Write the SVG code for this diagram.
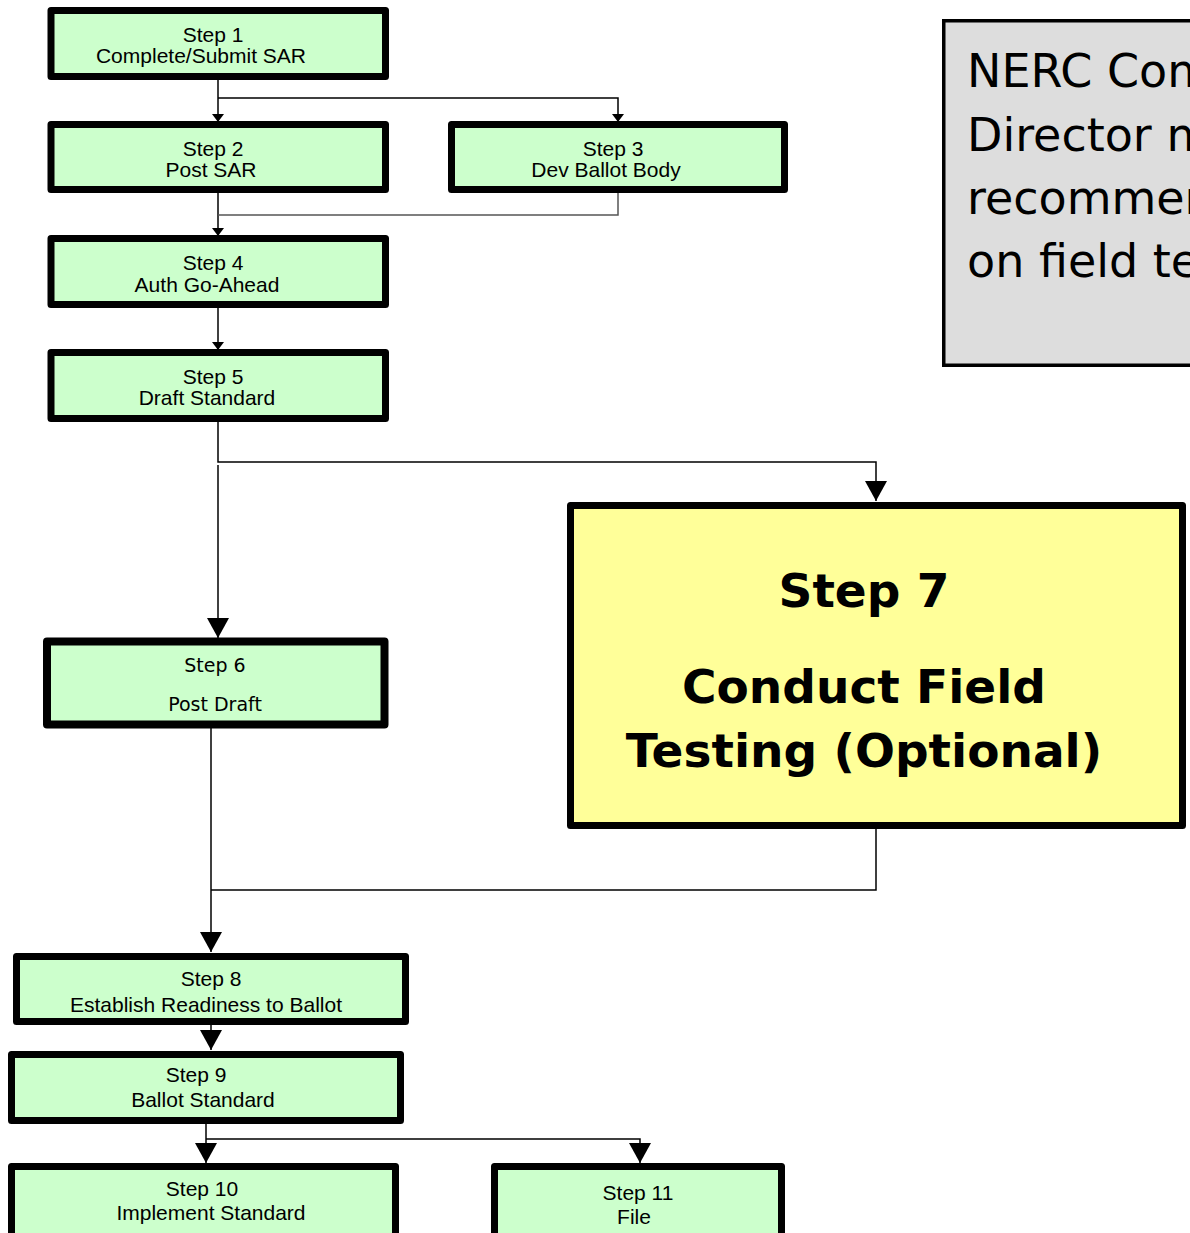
<svg xmlns="http://www.w3.org/2000/svg" width="1190" height="1233" viewBox="0 0 1190 1233">
  <style>
    .step { fill: #CCFFCC; stroke: #000; stroke-width: 7; stroke-linejoin: round; }
    .field { fill: #FFFF99; stroke: #000; stroke-width: 7; stroke-linejoin: round; }
    .note { fill: #DDDDDD; stroke: #000; stroke-width: 3.5; }
    .lbl { font-family: "Liberation Sans", Arial, sans-serif; font-size: 21px; fill: #000; text-anchor: middle; }
    .lbl2 { font-family: "DejaVu Sans", Verdana, sans-serif; font-size: 19px; fill: #000; text-anchor: middle; }
    .big { font-family: "DejaVu Sans", Verdana, sans-serif; font-weight: bold; font-size: 47px; fill: #000; text-anchor: middle; }
    .notetxt { font-family: "DejaVu Sans", Verdana, sans-serif; font-size: 46px; fill: #000; }
    .wire { fill: none; stroke: #000; stroke-width: 1.5; }
    .wire-grey { fill: none; stroke: #555; stroke-width: 1.5; }
  </style>
  <defs>
    <marker id="arrowSmall" viewBox="0 0 8 12" refX="8" refY="6" markerWidth="8" markerHeight="12" markerUnits="userSpaceOnUse" orient="auto">
      <path d="M0,0 L8,6 L0,12 z" fill="#000"/>
    </marker>
    <marker id="arrowLarge" viewBox="0 0 20 22" refX="20" refY="11" markerWidth="20" markerHeight="22" markerUnits="userSpaceOnUse" orient="auto">
      <path d="M0,0 L20,11 L0,22 z" fill="#000"/>
    </marker>
  </defs>

  <rect width="1190" height="1233" fill="#fff"/>

  <!-- connectors -->
  <g id="connectors">
    <path class="wire" d="M218,79 V122" marker-end="url(#arrowSmall)"/>
    <path class="wire" d="M218,98 H618 V122" marker-end="url(#arrowSmall)"/>
    <path class="wire" d="M218,193 V236" marker-end="url(#arrowSmall)"/>
    <path class="wire-grey" d="M618,193 V215 H218"/>
    <path class="wire" d="M218,308 V350" marker-end="url(#arrowSmall)"/>
    <path class="wire" d="M218,422 V462 H876 V501" marker-end="url(#arrowLarge)"/>
    <path class="wire" d="M218,465 V638" marker-end="url(#arrowLarge)"/>
    <path class="wire" d="M211,728 V952" marker-end="url(#arrowLarge)"/>
    <path class="wire" d="M876,829 V890 H211"/>
    <path class="wire" d="M211,1025 V1050" marker-end="url(#arrowLarge)"/>
    <path class="wire" d="M206,1124 V1163" marker-end="url(#arrowLarge)"/>
    <path class="wire" d="M206,1139 H640 V1163" marker-end="url(#arrowLarge)"/>
  </g>

  <g id="step1">
    <rect class="step" x="51" y="10.5" width="334.5" height="66"/>
    <text class="lbl" x="213" y="42">Step 1</text>
    <text class="lbl" x="201" y="63">Complete/Submit SAR</text>
  </g>

  <g id="step2">
    <rect class="step" x="51" y="124.5" width="334.5" height="65"/>
    <text class="lbl" x="213" y="156">Step 2</text>
    <text class="lbl" x="211" y="177">Post SAR</text>
  </g>

  <g id="step3">
    <rect class="step" x="451.5" y="124.5" width="333" height="65"/>
    <text class="lbl" x="613" y="156">Step 3</text>
    <text class="lbl" x="606" y="177">Dev Ballot Body</text>
  </g>

  <g id="step4">
    <rect class="step" x="51" y="238.5" width="334.5" height="66"/>
    <text class="lbl" x="213" y="270">Step 4</text>
    <text class="lbl" x="207" y="292">Auth Go-Ahead</text>
  </g>

  <g id="step5">
    <rect class="step" x="51" y="352.5" width="334.5" height="66"/>
    <text class="lbl" x="213" y="384">Step 5</text>
    <text class="lbl" x="207" y="405">Draft Standard</text>
  </g>

  <g id="step6">
    <rect class="step" x="47" y="641.5" width="337.5" height="83" style="stroke-width:8"/>
    <text class="lbl2" x="215" y="672">Step 6</text>
    <text class="lbl2" x="215" y="711">Post Draft</text>
  </g>

  <g id="step7">
    <rect class="field" x="570.5" y="505.5" width="612" height="320"/>
    <text class="big" x="864" y="607">Step 7</text>
    <text class="big" x="864" y="703">Conduct Field</text>
    <text class="big" x="864" y="767">Testing (Optional)</text>
  </g>

  <g id="note">
    <rect class="note" x="943.75" y="20.75" width="260" height="344.5"/>
    <text class="notetxt" x="967" y="87">NERC Compliance</text>
    <text class="notetxt" x="967" y="151">Director may</text>
    <text class="notetxt" x="967" y="214">recommendation</text>
    <text class="notetxt" x="967" y="277">on field testing</text>
  </g>

  <g id="step8">
    <rect class="step" x="16.5" y="956.5" width="389" height="65"/>
    <text class="lbl" x="211" y="986">Step 8</text>
    <text class="lbl" x="206" y="1012">Establish Readiness to Ballot</text>
  </g>

  <g id="step9">
    <rect class="step" x="11.5" y="1054.5" width="389" height="66"/>
    <text class="lbl" x="196" y="1082">Step 9</text>
    <text class="lbl" x="203" y="1107">Ballot Standard</text>
  </g>

  <g id="step10">
    <rect class="step" x="11.5" y="1166.5" width="384" height="100"/>
    <text class="lbl" x="202" y="1196">Step 10</text>
    <text class="lbl" x="211" y="1220">Implement Standard</text>
  </g>

  <g id="step11">
    <rect class="step" x="494.5" y="1166.5" width="287" height="100"/>
    <text class="lbl" x="638" y="1200">Step 11</text>
    <text class="lbl" x="634" y="1224">File</text>
  </g>
</svg>
